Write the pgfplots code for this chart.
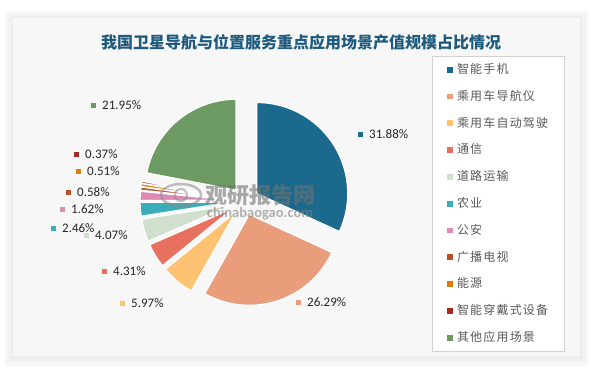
\documentclass[border=0pt]{standalone}
\usepackage{pgfplots}
\pgfplotsset{compat=1.18}
\usepackage{fontspec}
\setmainfont{Carlito}
\newfontfamily\cjk{Noto Sans CJK SC}
\newfontfamily\cjkleg[LetterSpace=10]{Noto Sans CJK SC}
\definecolor{c1}{RGB}{27,106,142}
\definecolor{c2}{RGB}{233,157,122}
\definecolor{c3}{RGB}{254,194,115}
\definecolor{c4}{RGB}{232,112,95}
\definecolor{c5}{RGB}{209,224,206}
\definecolor{c6}{RGB}{58,173,186}
\definecolor{c7}{RGB}{222,139,180}
\definecolor{c8}{RGB}{181,82,42}
\definecolor{c9}{RGB}{224,123,16}
\definecolor{c10}{RGB}{165,42,31}
\definecolor{c11}{RGB}{108,154,98}
\definecolor{titlec}{RGB}{30,90,125}
\definecolor{legtext}{RGB}{89,89,89}
\definecolor{labtext}{RGB}{38,38,38}

\def\cx{245}
\def\cy{201}
\def\rr{91}
\def\dd{14}
\gdef\cum{90}
\newcommand\slice[2]{%
  \pgfmathsetmacro\sa{\cum}%
  \pgfmathsetmacro\sb{\cum - #1*3.6/1.0001}%
  \pgfmathsetmacro\sm{(\sa+\sb)/2}%
  \pgfmathsetmacro\vx{\cx + \dd*cos(\sm)}%
  \pgfmathsetmacro\vy{\cy - \dd*sin(\sm)}%
  \edef\doit{\noexpand\addplot[fill=#2, draw=white, line width=1.3pt, line join=round, forget plot, domain=\sb:\sa, samples=60, variable=\noexpand\t] ({\vx+\rr*cos(\noexpand\t)},{\vy-\rr*sin(\noexpand\t)}) -- (axis cs:\vx,\vy) -- cycle;}%
  \doit
  \xdef\cum{\sb}%
}
\newcommand\lab[4]{% x y color text
  \addplot[only marks, mark=square*, mark size=2.2pt, color=#3, forget plot] coordinates {(#1,#2)};
  \node[anchor=west, font=\fontsize{13}{15}\selectfont, text=labtext, inner sep=0pt] at (axis cs:#1+9,#2) {#4};
}
\newcommand\leg[2]{%
  \addlegendimage{legend image code/.code={\fill[#1] (-2.4pt,-2.4pt) rectangle (2.4pt,2.4pt);}}
  \addlegendentry{#2}
}

\begin{document}
\begin{tikzpicture}
\begin{axis}[
  scale only axis, width=591pt, height=368pt,
  xmin=0, xmax=591, ymin=0, ymax=368, y dir=reverse,
  hide axis, clip=false,
  legend cell align=left,
  legend style={at={(axis cs:432,56)}, anchor=north west, draw=black!18, line width=0.8pt, fill=white,
    font=\cjkleg\fontsize{12}{13}\selectfont, text=legtext,
    inner xsep=15pt, inner ysep=6pt, row sep=12.3pt,
    nodes={inner sep=1.5pt, text height=9.5pt, text depth=2pt},
    /tikz/every odd column/.append style={column sep=2.5pt}},
]
% panel with soft shadow
\fill[black!3] (axis cs:5,11) rectangle (axis cs:588,366);
\fill[black!5] (axis cs:8,14) rectangle (axis cs:585,362);
\fill[black!7] (axis cs:11,16) rectangle (axis cs:582,359);
\fill[white!97!black] (axis cs:13,18) rectangle (axis cs:580,356);
% title
\node[font=\cjk\bfseries\fontsize{16}{18}\selectfont, text=titlec] at (axis cs:301,42) {我国卫星导航与位置服务重点应用场景产值规模占比情况};

% slices (percent, colour)
\slice{31.88}{c1}
\slice{26.29}{c2}
\slice{5.97}{c3}
\slice{4.31}{c4}
\slice{4.07}{c5}
\slice{2.46}{c6}
\slice{1.62}{c7}
\slice{0.58}{c8}
\slice{0.51}{c9}
\slice{0.37}{c10}
\slice{21.95}{c11}

% watermark
\draw[black!45, opacity=0.55, line width=2.5pt] (axis cs:181,195) ellipse [x radius=20pt, y radius=11pt];
\draw[black!45, opacity=0.55, line width=2pt] (axis cs:181,195) circle [radius=6pt];
\node[font=\cjk\bfseries\fontsize{22}{24}\selectfont, text=black!55, opacity=0.6] at (axis cs:260,195) {观研报告网};
\node[font=\bfseries\fontsize{14.5}{16}\selectfont, text=black!50, opacity=0.6] at (axis cs:260,214) {chinabaogao.com};

% data labels
\lab{360}{134}{c1}{31.88\%}
\lab{298}{302}{c2}{26.29\%}
\lab{122}{303}{c3}{5.97\%}
\lab{104}{271}{c4}{4.31\%}
\lab{86}{235}{c5}{4.07\%}
\lab{53}{228}{c6}{2.46\%}
\lab{62}{209}{c7}{1.62\%}
\lab{68}{192}{c8}{0.58\%}
\lab{78}{171}{c9}{0.51\%}
\lab{76}{154}{c10}{0.37\%}
\lab{93}{105}{c11}{21.95\%}

% legend
\leg{c1}{智能手机}
\leg{c2}{乘用车导航仪}
\leg{c3}{乘用车自动驾驶}
\leg{c4}{通信}
\leg{c5}{道路运输}
\leg{c6}{农业}
\leg{c7}{公安}
\leg{c8}{广播电视}
\leg{c9}{能源}
\leg{c10}{智能穿戴式设备}
\leg{c11}{其他应用场景}
\end{axis}
\pgfresetboundingbox
\useasboundingbox (current axis.south west) rectangle (current axis.north east);
\end{tikzpicture}
\end{document}
